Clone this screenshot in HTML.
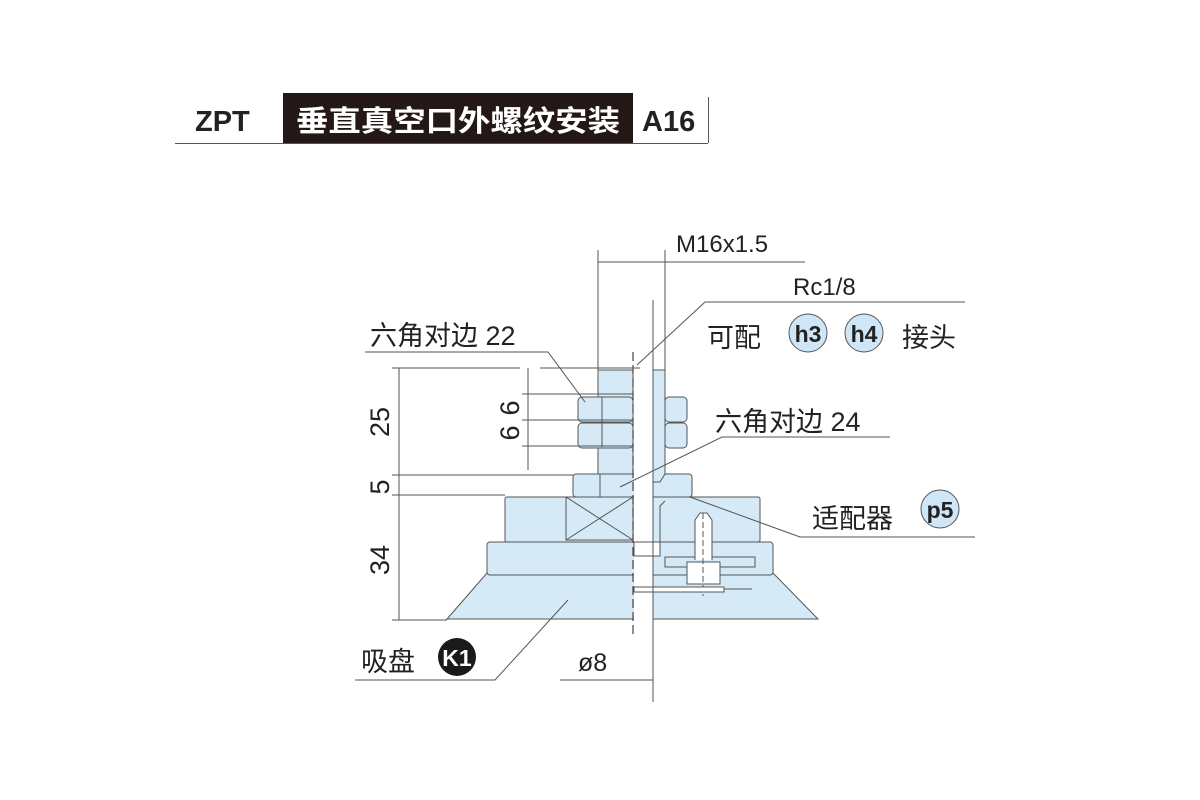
<!DOCTYPE html>
<html><head><meta charset="utf-8"><style>
html,body{margin:0;padding:0;background:#fff;width:1200px;height:800px;overflow:hidden}
svg{display:block}
text{font-family:"Liberation Sans","Noto Sans CJK SC",sans-serif;fill:#222}
</style></head><body>
<svg width="1200" height="800" viewBox="0 0 1200 800" xmlns="http://www.w3.org/2000/svg">
<!-- header -->
<rect x="283" y="93" width="350" height="50" fill="#231815"/>
<line x1="175" y1="143.5" x2="708" y2="143.5" stroke="#555" stroke-width="1"/>
<line x1="708.5" y1="97" x2="708.5" y2="143" stroke="#555" stroke-width="1"/>
<text x="195" y="131" font-size="29" font-weight="bold">ZPT</text>
<text x="296" y="131" font-size="29" font-weight="bold" style="fill:#fff" textLength="324" lengthAdjust="spacingAndGlyphs">垂直真空口外螺纹安装</text>
<text x="642" y="131" font-size="29" font-weight="bold">A16</text>

<g stroke="#555" stroke-width="1" fill="#d5e9f7">
<polygon points="447,619 487,573 773,573 818,619"/>
<rect x="487" y="542" width="286" height="33" rx="3"/>
<rect x="505" y="497" width="255" height="45" rx="2"/>
<rect x="566" y="497" width="67" height="43" />
<line x1="566" y1="497" x2="633" y2="540"/><line x1="633" y1="497" x2="566" y2="540"/>
<rect x="573" y="474" width="119" height="23" rx="3"/>
<line x1="600" y1="474" x2="600" y2="497"/>
<rect x="598" y="370" width="35" height="104"/>
<rect x="578" y="397" width="55" height="25" rx="4"/>
<rect x="578" y="423" width="55" height="25" rx="4"/>
<rect x="665" y="397" width="22" height="25" rx="4"/>
<rect x="665" y="423" width="22" height="25" rx="4"/>
<line x1="602" y1="397" x2="602" y2="447"/>
</g>
<!-- section cut -->
<rect x="634" y="368" width="19" height="252" fill="#fff"/>
<g stroke="#555" stroke-width="1" fill="#d5e9f7">
<path d="M653,370 L665,370 L665,474 L660,482 L653,482 Z"/>
<path d="M660,548 L660,506 L665,501" fill="none"/>
<rect x="634" y="542" width="26" height="14" fill="#fff"/>
<rect x="665" y="557" width="90" height="10" fill="#d5e9f7"/>
<path d="M695,560 L695,520 L700,513 L707,513 L712,520 L712,560" fill="#fff"/>
<rect x="687" y="562" width="33" height="22" fill="#fff"/>
<line x1="703" y1="513" x2="703" y2="596" stroke-dasharray="6,3"/>
<rect x="634" y="587" width="90" height="5" fill="#fff"/>
<line x1="724" y1="589" x2="752" y2="589"/>
</g>
<line x1="633" y1="352" x2="633" y2="636" stroke="#444" stroke-width="1.2" stroke-dasharray="9,4"/>
<!-- dims -->
<g stroke="#555" stroke-width="1" fill="none">
<line x1="399" y1="368" x2="399" y2="620"/>
<line x1="392" y1="368" x2="520" y2="368"/>
<line x1="540" y1="368" x2="640" y2="368"/>
<line x1="392" y1="475" x2="573" y2="475"/>
<line x1="392" y1="495" x2="505" y2="495"/>
<line x1="392" y1="620" x2="447" y2="620"/>
<line x1="528" y1="368" x2="528" y2="470"/>
<line x1="522" y1="394" x2="633" y2="394"/>
<line x1="522" y1="420" x2="633" y2="420"/>
<line x1="522" y1="446" x2="633" y2="446"/>
<line x1="598" y1="250" x2="598" y2="370"/>
<line x1="665" y1="250" x2="665" y2="370"/>
<line x1="598" y1="262" x2="805" y2="262"/>
<line x1="653" y1="300" x2="653" y2="702"/>
<polyline points="965,302 705,302 637,365"/>
<polyline points="365,352 548,352 585,402"/>
<polyline points="620,487 722,437 890,437"/>
<polyline points="690,497 800,537 975,537"/>
<polyline points="568,600 495,680 355,680"/>
<line x1="560" y1="680" x2="653" y2="680"/>
</g>
<!-- labels -->
<text x="676" y="252" font-size="24">M16x1.5</text>
<text x="793" y="295" font-size="24">Rc1/8</text>
<text x="707" y="347" font-size="27">可配</text>
<circle cx="808" cy="333" r="19" fill="#cfe6f7" stroke="#555"/>
<circle cx="864" cy="333" r="19" fill="#cfe6f7" stroke="#555"/>
<text x="808" y="342" font-size="23" font-weight="bold" text-anchor="middle">h3</text>
<text x="864" y="342" font-size="23" font-weight="bold" text-anchor="middle">h4</text>
<text x="902" y="347" font-size="27">接头</text>
<text x="370" y="345" font-size="27">六角对边 22</text>
<text x="715" y="431" font-size="27">六角对边 24</text>
<text x="812" y="528" font-size="27">适配器</text>
<circle cx="940" cy="509" r="19" fill="#cfe6f7" stroke="#555"/>
<text x="940" y="518" font-size="23" font-weight="bold" text-anchor="middle">p5</text>
<text x="361" y="671" font-size="27">吸盘</text>
<circle cx="457" cy="657" r="19" fill="#1a1a1a"/>
<text x="457" y="666" font-size="23" font-weight="bold" text-anchor="middle" style="fill:#fff">K1</text>
<text x="578" y="671" font-size="25">ø8</text>
<g font-size="27">
<text transform="translate(389,422) rotate(-90)" text-anchor="middle">25</text>
<text transform="translate(389,487) rotate(-90)" text-anchor="middle">5</text>
<text transform="translate(389,560) rotate(-90)" text-anchor="middle">34</text>
<text transform="translate(519,408) rotate(-90)" text-anchor="middle">6</text>
<text transform="translate(519,433) rotate(-90)" text-anchor="middle">6</text>
</g>
</svg>
</body></html>
